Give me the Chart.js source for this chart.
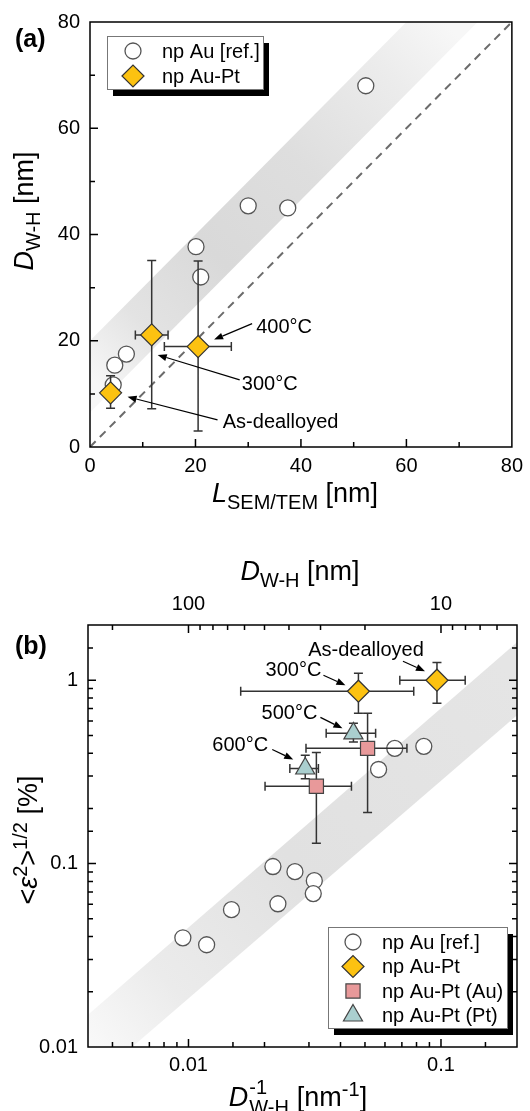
<!DOCTYPE html>
<html>
<head>
<meta charset="utf-8">
<script src="https://cdn.jsdelivr.net/npm/chart.js@4.4.1/dist/chart.umd.min.js"></script>
<style>
  html, body { margin:0; padding:0; background:#fff; }
  body { width:530px; height:1111px; position:relative; overflow:hidden;
         font-family:"Liberation Sans", Arial, Helvetica, sans-serif; color:#000; }
  canvas { position:absolute; left:0; }
  #chartA { top:0; }
  #chartB { top:520px; }
  .title { position:absolute; white-space:nowrap; font-size:27px; line-height:1; }
  .title .s { font-size:20px; line-height:0; vertical-align:-7px; }
  .title .p { font-size:20px; line-height:0; vertical-align:10px; }
  .panel { position:absolute; left:15px; font-size:25px; font-weight:bold; line-height:1; }
  .stack { display:inline-block; position:relative; width:41px; height:1px; }
  .stack span { position:absolute; left:1px; font-size:20px; line-height:1; white-space:nowrap; }
</style>
</head>
<body>
<canvas id="chartA" width="530" height="520"></canvas>
<canvas id="chartB" width="530" height="591"></canvas>

<div class="panel" style="top:26px">(a)</div>
<div class="panel" style="top:633px">(b)</div>

<div class="title" style="left:295px;top:480px;transform:translateX(-50%)"><i>L</i><span class="s">SEM/TEM</span> [nm]</div>
<div class="title" style="left:24px;top:211px;transform:translate(-50%,-50%) rotate(-90deg)"><i>D</i><span class="s">W-H</span> [nm]</div>
<div class="title" style="left:300px;top:558px;transform:translateX(-50%)"><i>D</i><span class="s">W-H</span> [nm]</div>
<div class="title" style="left:28px;top:840px;transform:translate(-50%,-50%) rotate(-90deg)">&lt;<i>ε</i><span class="p">2</span>&gt;<span class="p">1/2</span> [%]</div>
<div class="title" style="left:298px;top:1084px;transform:translateX(-50%)"><i>D</i><span class="stack"><span style="bottom:9px">-1</span><span style="top:-8px">W-H</span></span> [nm<span class="p">-1</span>]</div>

<script>
// ===================== Panel (a) data =====================
const aRefL  = [52.3, 30.0, 37.5, 20.1, 21.0, 4.7, 6.9, 4.4];
const aRefD  = [68.0, 45.4, 45.0, 37.7, 32.0, 15.4, 17.5, 11.7];
const aAuPtL = [3.9, 11.7, 20.5];
const aAuPtD = [10.2, 21.1, 18.9];
const aAuPtLLow  = [3.0, 8.6, 14.1];
const aAuPtLHigh = [4.8, 14.8, 26.8];
const aAuPtDLow  = [7.3, 7.2, 3.0];
const aAuPtDHigh = [13.4, 35.1, 35.0];
const aAnnotations = ['As-dealloyed', '300°C', '400°C'];
const aBandX     = [0, 80];
const aBandUpper = [20, 100];
const aBandLower = [6.5, 86.5];
const aIdentity  = [0, 80];
const aTickLabels = [0, 20, 40, 60, 80];
const aSeriesNames = ['np Au [ref.]', 'np Au-Pt'];

// ===================== Panel (b) data =====================
const bRefInvD   = [0.0216, 0.0264, 0.0315, 0.0312, 0.0226, 0.0148, 0.0095, 0.0118, 0.0656, 0.0855, 0.0566];
const bRefStrain = [0.0964, 0.0904, 0.0807, 0.0686, 0.0604, 0.0561, 0.0394, 0.0361, 0.425, 0.436, 0.326];
const bAuPtInvD       = [0.0964, 0.0471];
const bAuPtStrain     = [1.0, 0.871];
const bAuPtInvDLow    = [0.0687, 0.0161];
const bAuPtInvDHigh   = [0.1247, 0.078];
const bAuPtStrainLow  = [0.749, 0.66];
const bAuPtStrainHigh = [1.25, 1.09];
const bAuInvD       = [0.0512, 0.0321];
const bAuStrain     = [0.425, 0.264];
const bAuInvDLow    = [0.0292, 0.0201];
const bAuInvDHigh   = [0.0733, 0.0442];
const bAuStrainLow  = [0.19, 0.129];
const bAuStrainHigh = [0.66, 0.404];
const bPtInvD       = [0.045, 0.029];
const bPtStrain     = [0.513, 0.33];
const bPtInvDLow    = [0.0351, 0.0252];
const bPtInvDHigh   = [0.0551, 0.0327];
const bPtStrainLow  = [0.46, 0.29];
const bPtStrainHigh = [0.582, 0.39];
const bAuPtAnnotations = ['As-dealloyed', '300°C'];
const bPtAnnotations   = ['500°C', '600°C'];
const bBandX     = [0.004, 0.2];
const bBandUpper = [0.015, 1.61];
const bBandLower = [0.0062, 0.645];
const bXTickLabels = [0.01, 0.1];
const bYTickLabels = [0.01, 0.1, 1];
const bTopTicksD   = [200, 100, 90, 80, 70, 60, 50, 40, 30, 20, 10, 9, 8, 7, 6];
const bTopTickLabels = [100, 10];
const bSeriesNames = ['np Au [ref.]', 'np Au-Pt', 'np Au-Pt (Au)', 'np Au-Pt (Pt)'];

// ===================== helpers =====================
const FONT = '"Liberation Sans", Arial, Helvetica, sans-serif';
Chart.defaults.font.family = FONT;
Chart.defaults.font.size = 20;
Chart.defaults.color = '#000';

function pts(xs, ys) { return xs.map((x, i) => ({ x: x, y: ys[i] })); }
function matchTick(v, list) {
  for (const t of list) { if (Math.abs(v - t) <= Math.abs(t) * 1e-6 + 1e-12) return String(t); }
  return '';
}
function bandGradient(x0, y0, x1, y1, stops) {
  return function (context) {
    const chart = context.chart;
    const xs = chart.scales.x, ys = chart.scales.y;
    if (!chart.chartArea || !xs || !ys) return 'rgba(222,222,222,1)';
    const g = chart.ctx.createLinearGradient(
      xs.getPixelForValue(x0), ys.getPixelForValue(y0),
      xs.getPixelForValue(x1), ys.getPixelForValue(y1));
    stops.forEach(s => g.addColorStop(s[0], s[1]));
    return g;
  };
}

function frameTicksPlugin(cfg) {
  return {
    id: 'frameTicks',
    afterDatasetsDraw(chart) {
      const ctx = chart.ctx, a = chart.chartArea;
      ctx.save();
      ctx.strokeStyle = '#000';
      ctx.lineWidth = 1.5;
      ctx.beginPath();
      const inRange = (p, lo, hi) => p > lo + 1 && p < hi - 1;
      cfg.axes.forEach(ax => {
        const scale = chart.scales[ax.id];
        scale.ticks.forEach(t => {
          const p = scale.getPixelForValue(t.value);
          const len = (t.label !== '' && t.label !== undefined) ? cfg.major : cfg.minor;
          ax.sides.forEach(side => {
            if (side === 'bottom' && inRange(p, a.left, a.right)) { ctx.moveTo(p, a.bottom); ctx.lineTo(p, a.bottom - len); }
            if (side === 'top' && inRange(p, a.left, a.right)) { ctx.moveTo(p, a.top); ctx.lineTo(p, a.top + len); }
            if (side === 'left' && inRange(p, a.top, a.bottom)) { ctx.moveTo(a.left, p); ctx.lineTo(a.left + len, p); }
            if (side === 'right' && inRange(p, a.top, a.bottom)) { ctx.moveTo(a.right, p); ctx.lineTo(a.right - len, p); }
          });
        });
      });
      ctx.stroke();
      ctx.strokeRect(a.left, a.top, a.right - a.left, a.bottom - a.top);
      ctx.restore();
    }
  };
}

function errorBarsPlugin(sets) {
  return {
    id: 'errorBars',
    beforeDatasetDraw(chart, args) {
      const e = sets[args.index];
      if (!e) return;
      const ctx = chart.ctx, xs = chart.scales.x, ys = chart.scales.y;
      const data = chart.data.datasets[args.index].data;
      const c = 4.5;
      ctx.save();
      ctx.beginPath();
      ctx.rect(chart.chartArea.left, chart.chartArea.top, chart.chartArea.right - chart.chartArea.left, chart.chartArea.bottom - chart.chartArea.top);
      ctx.clip();
      ctx.strokeStyle = '#333';
      ctx.lineWidth = 1.5;
      ctx.beginPath();
      data.forEach((p, i) => {
        const px = xs.getPixelForValue(p.x), py = ys.getPixelForValue(p.y);
        const x1 = xs.getPixelForValue(e.xLow[i]), x2 = xs.getPixelForValue(e.xHigh[i]);
        const y1 = ys.getPixelForValue(e.yLow[i]), y2 = ys.getPixelForValue(e.yHigh[i]);
        ctx.moveTo(x1, py); ctx.lineTo(x2, py);
        ctx.moveTo(x1, py - c); ctx.lineTo(x1, py + c);
        ctx.moveTo(x2, py - c); ctx.lineTo(x2, py + c);
        ctx.moveTo(px, y1); ctx.lineTo(px, y2);
        ctx.moveTo(px - c, y1); ctx.lineTo(px + c, y1);
        ctx.moveTo(px - c, y2); ctx.lineTo(px + c, y2);
      });
      ctx.stroke();
      ctx.restore();
    }
  };
}

function arrow(ctx, x0, y0, x1, y1) {
  const ang = Math.atan2(y1 - y0, x1 - x0), L = 9, W = 3.5;
  const bx = x1 - L * Math.cos(ang), by = y1 - L * Math.sin(ang);
  ctx.beginPath(); ctx.moveTo(x0, y0); ctx.lineTo(bx, by); ctx.stroke();
  ctx.beginPath(); ctx.moveTo(x1, y1);
  ctx.lineTo(bx + W * Math.sin(ang), by - W * Math.cos(ang));
  ctx.lineTo(bx - W * Math.sin(ang), by + W * Math.cos(ang));
  ctx.closePath(); ctx.fill();
}

function annotationPlugin(items) {
  return {
    id: 'annotations',
    afterDatasetsDraw(chart) {
      const ctx = chart.ctx, xs = chart.scales.x, ys = chart.scales.y;
      ctx.save();
      ctx.strokeStyle = '#000'; ctx.fillStyle = '#000'; ctx.lineWidth = 1.2;
      ctx.font = '20px ' + FONT;
      ctx.textAlign = 'center'; ctx.textBaseline = 'middle';
      items.forEach(it => {
        const p = chart.data.datasets[it.ds].data[it.i];
        const px = xs.getPixelForValue(p.x), py = ys.getPixelForValue(p.y);
        arrow(ctx, px + it.tail[0], py + it.tail[1], px + it.head[0], py + it.head[1]);
        ctx.fillText(it.text, px + it.txt[0], py + it.txt[1]);
      });
      ctx.restore();
    }
  };
}

function legendPlugin(cfg) {
  return {
    id: 'boxLegend',
    afterDraw(chart) {
      const ctx = chart.ctx, b = cfg.box;
      ctx.save();
      ctx.fillStyle = '#000';
      ctx.fillRect(b[0] + 6, b[1] + 7, b[2], b[3]);
      ctx.fillStyle = '#fff';
      ctx.fillRect(b[0], b[1], b[2], b[3]);
      ctx.strokeStyle = '#777'; ctx.lineWidth = 1;
      ctx.strokeRect(b[0] + 0.5, b[1] + 0.5, b[2], b[3]);
      ctx.font = '20px ' + FONT;
      ctx.textAlign = 'left'; ctx.textBaseline = 'middle';
      cfg.rows.forEach((dsIndex, r) => {
        const ds = chart.data.datasets[dsIndex];
        const y = b[1] + cfg.row0 + r * cfg.rowH;
        ctx.fillStyle = ds.backgroundColor;
        ctx.strokeStyle = ds.borderColor;
        ctx.lineWidth = ds.borderWidth;
        Chart.helpers.drawPoint(ctx, { pointStyle: ds.pointStyle, radius: ds.pointRadius, rotation: 0, borderWidth: ds.borderWidth }, b[0] + cfg.markerX, y);
        ctx.fillStyle = '#000';
        ctx.fillText(ds.label, b[0] + cfg.textX, y + 1);
      });
      ctx.restore();
    }
  };
}

const axisCommon = {
  grid: { display: false, drawTicks: false },
  border: { display: false }
};

// ===================== Chart (a) =====================
new Chart(document.getElementById('chartA'), {
  type: 'scatter',
  data: {
    datasets: [
      { type: 'line', label: 'band-upper', data: pts(aBandX, aBandUpper), borderColor: 'rgba(0,0,0,0)', borderWidth: 0, pointRadius: 0, fill: false, order: 10 },
      { type: 'line', label: 'band-lower', data: pts(aBandX, aBandLower), borderColor: 'rgba(0,0,0,0)', borderWidth: 0, pointRadius: 0, fill: '-1', order: 10,
        backgroundColor: bandGradient(0, 13, 67, 80, [[0, '#f7f7f7'], [0.15, '#e3e3e3'], [0.35, '#d9d9d9'], [0.6, '#dedede'], [0.85, '#ececec'], [1, '#f7f7f7']]) },
      { type: 'line', label: 'identity', data: pts(aIdentity, aIdentity), borderColor: '#6b6b6b', borderWidth: 2, borderDash: [8, 6], pointRadius: 0, fill: false, order: 8 },
      { label: aSeriesNames[0], data: pts(aRefL, aRefD), pointStyle: 'circle', pointRadius: 8, backgroundColor: '#fff', borderColor: '#555', borderWidth: 1.3, order: 5 },
      { label: aSeriesNames[1], data: pts(aAuPtL, aAuPtD), pointStyle: 'rectRot', pointRadius: 11, backgroundColor: '#FCC211', borderColor: '#333', borderWidth: 1.2, order: 1 }
    ]
  },
  options: {
    responsive: false, animation: false, events: [],
    layout: { padding: { left: 0, right: 14, top: 22, bottom: 0 } },
    plugins: { legend: { display: false }, tooltip: { enabled: false } },
    scales: {
      x: Object.assign({ type: 'linear', min: 0, max: 80,
        ticks: { stepSize: 10, autoSkip: false, maxRotation: 0, padding: 7, callback: v => matchTick(v, aTickLabels) },
        afterFit: s => { s.height = 73; } }, axisCommon),
      y: Object.assign({ type: 'linear', min: 0, max: 80,
        ticks: { stepSize: 10, autoSkip: false, padding: 10, callback: v => matchTick(v, aTickLabels) },
        afterFit: s => { s.width = 90; } }, axisCommon)
    }
  },
  plugins: [
    errorBarsPlugin({ 4: { xLow: aAuPtLLow, xHigh: aAuPtLHigh, yLow: aAuPtDLow, yHigh: aAuPtDHigh } }),
    frameTicksPlugin({ major: 8, minor: 5, axes: [{ id: 'x', sides: ['bottom'] }, { id: 'y', sides: ['left'] }] }),
    annotationPlugin([
      { ds: 4, i: 0, text: aAnnotations[0], head: [17, 4], tail: [107, 27], txt: [170, 30] },
      { ds: 4, i: 1, text: aAnnotations[1], head: [6, 20], tail: [88, 45], txt: [118, 50] },
      { ds: 4, i: 2, text: aAnnotations[2], head: [16, -7], tail: [54, -23], txt: [86, -19] }
    ]),
    legendPlugin({ box: [107, 36, 156, 53], markerX: 26, textX: 55, row0: 15, rowH: 25, rows: [3, 4] })
  ]
});

// ===================== Chart (b) =====================
new Chart(document.getElementById('chartB'), {
  type: 'scatter',
  data: {
    datasets: [
      { type: 'line', label: 'band-upper', data: pts(bBandX, bBandUpper), borderColor: 'rgba(0,0,0,0)', borderWidth: 0, pointRadius: 0, fill: false, order: 10 },
      { type: 'line', label: 'band-lower', data: pts(bBandX, bBandLower), borderColor: 'rgba(0,0,0,0)', borderWidth: 0, pointRadius: 0, fill: '-1', order: 10,
        backgroundColor: bandGradient(0.004, 0.008, 0.2, 1.0, [[0, '#fbfbfb'], [0.2, '#ebebeb'], [0.5, '#e1e1e1'], [1, '#e5e5e5']]) },
      { label: bSeriesNames[0], data: pts(bRefInvD, bRefStrain), pointStyle: 'circle', pointRadius: 8, backgroundColor: '#fff', borderColor: '#555', borderWidth: 1.3, order: 5 },
      { label: bSeriesNames[1], data: pts(bAuPtInvD, bAuPtStrain), pointStyle: 'rectRot', pointRadius: 11, backgroundColor: '#FCC211', borderColor: '#333', borderWidth: 1.2, order: 1 },
      { label: bSeriesNames[2], data: pts(bAuInvD, bAuStrain), pointStyle: 'rect', pointRadius: 10, backgroundColor: '#E8999A', borderColor: '#444', borderWidth: 1.2, order: 2 },
      { label: bSeriesNames[3], data: pts(bPtInvD, bPtStrain), pointStyle: 'triangle', pointRadius: 11, backgroundColor: '#AACFCF', borderColor: '#444', borderWidth: 1.2, order: 3 }
    ]
  },
  options: {
    responsive: false, animation: false, events: [],
    layout: { padding: { left: 0, right: 13, top: 0, bottom: 0 } },
    plugins: { legend: { display: false }, tooltip: { enabled: false } },
    scales: {
      x: Object.assign({ type: 'logarithmic', position: 'bottom', min: 0.004, max: 0.2,
        ticks: { autoSkip: false, maxRotation: 0, padding: 6, callback: v => matchTick(v, bXTickLabels) },
        afterFit: s => { s.height = 64; } }, axisCommon),
      x2: Object.assign({ type: 'logarithmic', position: 'top', min: 0.004, max: 0.2,
        afterBuildTicks: s => { s.ticks = bTopTicksD.map(d => ({ value: 1 / d })); },
        ticks: { autoSkip: false, maxRotation: 0, padding: 9,
          callback: v => { const d = Math.round(1 / v); return bTopTickLabels.includes(d) ? String(d) : ''; } },
        afterFit: s => { s.height = 105; } }, axisCommon),
      y: Object.assign({ type: 'logarithmic', min: 0.01, max: 2,
        ticks: { autoSkip: false, padding: 10, callback: v => matchTick(v, bYTickLabels) },
        afterFit: s => { s.width = 88; } }, axisCommon)
    }
  },
  plugins: [
    errorBarsPlugin({
      3: { xLow: bAuPtInvDLow, xHigh: bAuPtInvDHigh, yLow: bAuPtStrainLow, yHigh: bAuPtStrainHigh },
      4: { xLow: bAuInvDLow, xHigh: bAuInvDHigh, yLow: bAuStrainLow, yHigh: bAuStrainHigh },
      5: { xLow: bPtInvDLow, xHigh: bPtInvDHigh, yLow: bPtStrainLow, yHigh: bPtStrainHigh }
    }),
    frameTicksPlugin({ major: 8, minor: 5, axes: [
      { id: 'x', sides: ['bottom'] }, { id: 'x2', sides: ['top'] }, { id: 'y', sides: ['left', 'right'] }] }),
    annotationPlugin([
      { ds: 3, i: 0, text: bAuPtAnnotations[0], head: [-12, -9], tail: [-34, -19], txt: [-71, -30] },
      { ds: 3, i: 1, text: bAuPtAnnotations[1], head: [-13, -6], tail: [-35, -16], txt: [-65, -21] },
      { ds: 5, i: 0, text: bPtAnnotations[0], head: [-11, -5], tail: [-33, -16], txt: [-64, -20] },
      { ds: 5, i: 1, text: bPtAnnotations[1], head: [-12, -9], tail: [-33, -19], txt: [-65, -23] }
    ]),
    legendPlugin({ box: [328, 407, 179, 101], markerX: 25, textX: 54, row0: 15, rowH: 24.5, rows: [2, 3, 4, 5] })
  ]
});
</script>
</body>
</html>
